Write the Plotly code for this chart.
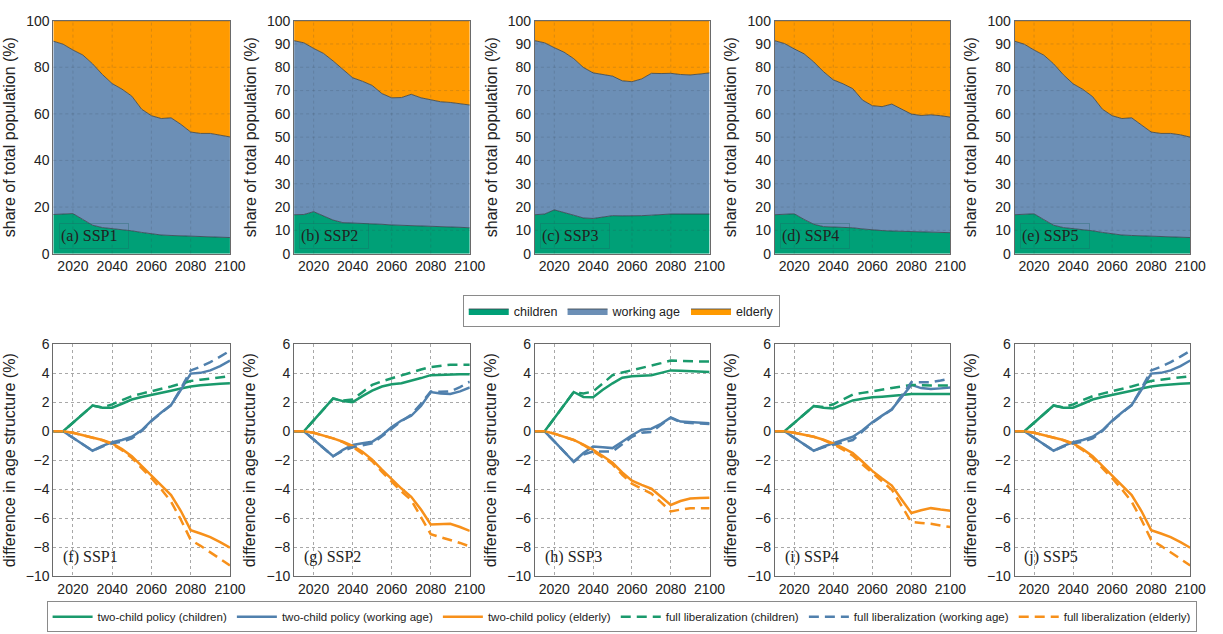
import plotly.graph_objects as go

# ---------------------------------------------------------------- data
years = list(range(2010, 2101, 5))
scenarios = ["SSP1", "SSP2", "SSP3", "SSP4", "SSP5"]
top_labels = ["(a)", "(b)", "(c)", "(d)", "(e)"]
bottom_labels = ["(f)", "(g)", "(h)", "(i)", "(j)"]

# share of total population (%) by age group
children_share = {
    "SSP1": [16.8, 17.0, 17.2, 14.7, 12.2, 11.2, 10.8, 10.3, 9.8, 9.1, 8.4, 8.0, 7.8, 7.6, 7.4, 7.2, 7.1, 7.0, 6.9],
    "SSP2": [16.7, 16.8, 18.0, 16.1, 14.4, 13.3, 13.2, 13.1, 13.0, 12.6, 12.3, 12.2, 12.1, 12.0, 11.9, 11.7, 11.5, 11.3, 11.1],
    "SSP3": [16.7, 17.0, 18.8, 17.5, 16.5, 15.3, 15.1, 15.7, 16.3, 16.2, 16.1, 16.3, 16.5, 16.8, 17.0, 17.0, 17.0, 17.0, 17.0],
    "SSP4": [16.7, 16.9, 17.1, 14.7, 12.6, 11.6, 11.5, 11.3, 11.1, 10.6, 10.1, 9.9, 9.7, 9.6, 9.4, 9.2, 9.1, 9.0, 9.0],
    "SSP5": [16.7, 16.9, 17.1, 14.6, 12.2, 11.2, 10.8, 10.3, 9.8, 9.1, 8.4, 8.0, 7.8, 7.6, 7.4, 7.2, 7.1, 7.0, 6.9],
}
working_share = {
    "SSP1": [74.4, 72.9, 70.2, 70.6, 69.3, 65.7, 62.2, 60.3, 57.8, 52.9, 50.8, 50.0, 50.5, 47.9, 44.8, 44.4, 44.5, 44.0, 43.2],
    "SSP2": [74.7, 73.7, 70.1, 69.9, 68.3, 65.7, 62.3, 60.9, 59.2, 56.1, 54.6, 54.8, 56.3, 54.9, 54.0, 53.5, 53.4, 53.2, 52.7],
    "SSP3": [74.7, 73.5, 69.6, 69.0, 67.2, 64.6, 62.5, 61.2, 59.9, 58.0, 57.7, 58.7, 60.9, 60.5, 60.4, 59.9, 59.7, 60.1, 60.6],
    "SSP4": [74.7, 73.3, 70.8, 71.1, 69.7, 66.5, 63.1, 61.6, 59.7, 55.3, 53.4, 53.2, 54.5, 52.5, 50.5, 50.1, 50.5, 50.2, 49.6],
    "SSP5": [74.5, 73.0, 70.3, 70.6, 69.3, 65.6, 62.1, 60.2, 57.6, 52.9, 50.8, 50.0, 50.5, 47.8, 44.8, 44.4, 44.5, 44.0, 43.1],
}
elderly_share = {
    "SSP1": [8.8, 10.1, 12.6, 14.7, 18.5, 23.1, 27.0, 29.4, 32.4, 38.0, 40.8, 42.0, 41.7, 44.5, 47.8, 48.4, 48.4, 49.0, 49.9],
    "SSP2": [8.6, 9.5, 11.9, 14.0, 17.3, 21.0, 24.5, 26.0, 27.8, 31.3, 33.1, 33.0, 31.6, 33.1, 34.1, 34.8, 35.1, 35.5, 36.2],
    "SSP3": [8.6, 9.5, 11.6, 13.5, 16.3, 20.1, 22.4, 23.1, 23.8, 25.8, 26.2, 25.0, 22.6, 22.7, 22.6, 23.1, 23.3, 22.9, 22.4],
    "SSP4": [8.6, 9.8, 12.1, 14.2, 17.7, 21.9, 25.4, 27.1, 29.2, 34.1, 36.5, 36.9, 35.8, 37.9, 40.1, 40.7, 40.4, 40.8, 41.4],
    "SSP5": [8.8, 10.1, 12.6, 14.8, 18.5, 23.2, 27.1, 29.5, 32.6, 38.0, 40.8, 42.0, 41.7, 44.6, 47.8, 48.4, 48.4, 49.0, 50.0],
}

# difference in age structure (%) under the two policies
two_child_children = {
    "SSP1": [0, 0, 0.59, 1.19, 1.78, 1.63, 1.63, 1.90, 2.19, 2.37, 2.53, 2.67, 2.80, 2.95, 3.09, 3.17, 3.24, 3.28, 3.31],
    "SSP2": [0, 0, 0.75, 1.50, 2.26, 2.08, 2.01, 2.42, 2.80, 3.09, 3.24, 3.31, 3.47, 3.67, 3.87, 3.91, 3.94, 3.94, 3.94],
    "SSP3": [0, 0, 0.90, 1.80, 2.71, 2.37, 2.35, 2.86, 3.31, 3.69, 3.80, 3.83, 3.87, 4.03, 4.20, 4.17, 4.14, 4.11, 4.09],
    "SSP4": [0, 0, 0.58, 1.16, 1.74, 1.63, 1.57, 1.85, 2.13, 2.25, 2.35, 2.39, 2.42, 2.50, 2.57, 2.57, 2.57, 2.57, 2.57],
    "SSP5": [0, 0, 0.59, 1.19, 1.78, 1.63, 1.63, 1.90, 2.19, 2.37, 2.53, 2.67, 2.80, 2.95, 3.09, 3.17, 3.24, 3.28, 3.31],
}
two_child_working = {
    "SSP1": [0, 0, -0.45, -0.90, -1.34, -1.00, -0.76, -0.60, -0.38, 0.07, 0.74, 1.30, 1.81, 2.86, 3.98, 4.03, 4.20, 4.50, 4.88],
    "SSP2": [0, 0, -0.57, -1.15, -1.72, -1.28, -0.94, -0.83, -0.72, -0.27, 0.29, 0.74, 1.07, 1.74, 2.71, 2.60, 2.57, 2.75, 3.02],
    "SSP3": [0, 0, -0.70, -1.40, -2.10, -1.50, -1.05, -1.10, -1.16, -0.72, -0.27, 0.11, 0.18, 0.51, 0.96, 0.67, 0.63, 0.60, 0.56],
    "SSP4": [0, 0, -0.45, -0.90, -1.34, -1.05, -0.83, -0.60, -0.38, 0.07, 0.63, 1.08, 1.52, 2.35, 3.20, 2.98, 2.91, 2.96, 3.02],
    "SSP5": [0, 0, -0.45, -0.90, -1.34, -1.00, -0.76, -0.60, -0.38, 0.07, 0.74, 1.30, 1.81, 2.86, 3.98, 4.03, 4.20, 4.50, 4.88],
}
two_child_elderly = {
    "SSP1": [0, 0, -0.10, -0.27, -0.45, -0.60, -0.83, -1.23, -1.72, -2.39, -3.06, -3.74, -4.40, -5.50, -6.82, -7.05, -7.30, -7.65, -8.03],
    "SSP2": [0, 0, -0.10, -0.28, -0.49, -0.72, -1.00, -1.42, -1.95, -2.65, -3.33, -3.95, -4.52, -5.40, -6.42, -6.40, -6.38, -6.60, -6.87],
    "SSP3": [0, 0, -0.16, -0.36, -0.60, -0.92, -1.28, -1.70, -2.17, -2.84, -3.40, -3.70, -3.96, -4.52, -5.08, -4.81, -4.63, -4.60, -4.59],
    "SSP4": [0, 0, -0.10, -0.22, -0.38, -0.58, -0.83, -1.15, -1.50, -2.10, -2.73, -3.25, -3.74, -4.70, -5.64, -5.45, -5.30, -5.40, -5.48],
    "SSP5": [0, 0, -0.10, -0.27, -0.45, -0.60, -0.83, -1.23, -1.72, -2.39, -3.06, -3.74, -4.40, -5.50, -6.82, -7.05, -7.30, -7.65, -8.03],
}
full_lib_children = {
    "SSP1": [0, 0, 0.59, 1.19, 1.78, 1.65, 1.86, 2.15, 2.42, 2.60, 2.75, 2.92, 3.09, 3.28, 3.47, 3.56, 3.65, 3.72, 3.80],
    "SSP2": [0, 0, 0.75, 1.50, 2.26, 2.12, 2.19, 2.70, 3.20, 3.45, 3.65, 3.87, 4.09, 4.26, 4.43, 4.52, 4.59, 4.59, 4.59],
    "SSP3": [0, 0, 0.90, 1.80, 2.71, 2.60, 2.75, 3.30, 3.87, 4.05, 4.20, 4.35, 4.50, 4.70, 4.88, 4.85, 4.81, 4.81, 4.81],
    "SSP4": [0, 0, 0.58, 1.16, 1.74, 1.68, 1.86, 2.20, 2.53, 2.65, 2.75, 2.87, 2.98, 3.09, 3.20, 3.17, 3.15, 3.15, 3.15],
    "SSP5": [0, 0, 0.59, 1.19, 1.78, 1.65, 1.86, 2.15, 2.42, 2.60, 2.75, 2.92, 3.09, 3.28, 3.47, 3.56, 3.65, 3.72, 3.80],
}
full_lib_working = {
    "SSP1": [0, 0, -0.45, -0.90, -1.34, -1.05, -0.83, -0.72, -0.49, 0.02, 0.70, 1.28, 1.80, 2.95, 4.20, 4.45, 4.77, 5.15, 5.55],
    "SSP2": [0, 0, -0.57, -1.15, -1.72, -1.35, -1.10, -0.97, -0.83, -0.35, 0.18, 0.70, 1.14, 1.90, 2.75, 2.72, 2.75, 3.05, 3.42],
    "SSP3": [0, 0, -0.70, -1.40, -2.10, -1.60, -1.39, -1.39, -1.39, -0.90, -0.38, -0.10, -0.04, 0.45, 0.92, 0.62, 0.56, 0.53, 0.51],
    "SSP4": [0, 0, -0.45, -0.90, -1.34, -1.10, -0.94, -0.77, -0.60, 0.00, 0.58, 1.05, 1.50, 2.45, 3.38, 3.38, 3.38, 3.50, 3.65],
    "SSP5": [0, 0, -0.45, -0.90, -1.34, -1.05, -0.83, -0.72, -0.49, 0.02, 0.70, 1.28, 1.80, 2.95, 4.20, 4.45, 4.77, 5.15, 5.55],
}
full_lib_elderly = {
    "SSP1": [0, 0, -0.10, -0.27, -0.45, -0.62, -0.88, -1.30, -1.83, -2.52, -3.24, -4.00, -4.85, -6.10, -7.49, -7.90, -8.32, -8.80, -9.26],
    "SSP2": [0, 0, -0.10, -0.28, -0.49, -0.75, -1.08, -1.55, -2.06, -2.80, -3.51, -4.15, -4.74, -5.90, -7.09, -7.30, -7.49, -7.70, -7.94],
    "SSP3": [0, 0, -0.16, -0.36, -0.60, -0.95, -1.35, -1.80, -2.28, -3.00, -3.62, -3.98, -4.30, -4.90, -5.53, -5.40, -5.30, -5.30, -5.30],
    "SSP4": [0, 0, -0.10, -0.22, -0.38, -0.60, -0.90, -1.27, -1.68, -2.30, -2.91, -3.45, -4.03, -5.15, -6.26, -6.32, -6.38, -6.50, -6.60],
    "SSP5": [0, 0, -0.10, -0.27, -0.45, -0.62, -0.88, -1.30, -1.83, -2.52, -3.24, -4.00, -4.85, -6.10, -7.49, -7.90, -8.32, -8.80, -9.26],
}

x_ticks = [2020, 2040, 2060, 2080, 2100]
share_ticks_coarse = [0, 20, 40, 60, 80, 100]
share_ticks_fine = [0, 10, 20, 30, 40, 50, 60, 70, 80, 90, 100]
diff_ticks = [-10, -8, -6, -4, -2, 0, 2, 4, 6]

# ---------------------------------------------------------------- styling
FILL = {"children": "#00a077", "working age": "#6c8fb6", "elderly": "#ff9a00"}
LINE = {"children": "#1a9a6c", "working age": "#5080ad", "elderly": "#f7901a"}
SANS = "Liberation Sans, Arial, sans-serif"
SERIF = "Liberation Serif, Times New Roman, serif"
W, H = 1223, 634

col_px = [(54, 233), (298, 476), (542, 719), (785, 963), (1028, 1206)]
top_px = (13, 252)
bot_px = (345, 583)


def xdom(c):
    return [c[0] / W, c[1] / W]


def ydom(r):
    return [1 - r[1] / H, 1 - r[0] / H]


def ax_id(letter, n):
    return letter if n == 1 else f"{letter}{n}"


fig = go.Figure()
layout = {}
annotations = []
shapes = []

for i, scn in enumerate(scenarios):
    ti, bi = i + 1, i + 6
    tx, ty = ax_id("x", ti), ax_id("y", ti)
    bx, by = ax_id("x", bi), ax_id("y", bi)

    # stacked age-group shares
    for name, src in [("children", children_share), ("working age", working_share), ("elderly", elderly_share)]:
        fig.add_trace(go.Scatter(
            x=years, y=src[scn], name=name, mode="lines",
            stackgroup=f"stack{ti}", fillcolor=FILL[name],
            line=dict(color="#34404a", width=0.8),
            xaxis=tx, yaxis=ty, legend="legend", showlegend=(i == 0),
            legendgroup=name,
        ))

    # policy differences
    series = [
        ("two-child policy (children)", two_child_children, "children", "solid"),
        ("two-child policy (working age)", two_child_working, "working age", "solid"),
        ("two-child policy (elderly)", two_child_elderly, "elderly", "solid"),
        ("full liberalization (children)", full_lib_children, "children", "10px,6px"),
        ("full liberalization (working age)", full_lib_working, "working age", "10px,6px"),
        ("full liberalization (elderly)", full_lib_elderly, "elderly", "10px,6px"),
    ]
    for name, src, grp, dash in series:
        fig.add_trace(go.Scatter(
            x=years, y=src[scn], name=name, mode="lines",
            line=dict(color=LINE[grp], width=2.5, dash=dash),
            xaxis=bx, yaxis=by, legend="legend2", showlegend=(i == 0),
            legendgroup=name,
        ))

    axis_common = dict(
        showline=True, linecolor="#6a6a6a", linewidth=1, mirror=True,
        ticks="", zeroline=False,
        tickfont=dict(family=SANS, size=14, color="#222"),
    )
    yt = share_ticks_coarse if i == 0 else share_ticks_fine
    layout["xaxis" + tx[1:]] = dict(axis_common, domain=xdom(col_px[i]), anchor=ty,
                                   range=[2010, 2100], tickvals=x_ticks, showgrid=False)
    layout["yaxis" + ty[1:]] = dict(axis_common, domain=ydom(top_px), anchor=tx,
                                   range=[0, 100], tickvals=yt, showgrid=False,
                                   title=dict(text="share of total population (%)",
                                              font=dict(family=SANS, size=16, color="#222"),
                                              standoff=6))
    layout["xaxis" + bx[1:]] = dict(axis_common, domain=xdom(col_px[i]), anchor=by,
                                   range=[2010, 2100], tickvals=x_ticks, showgrid=True,
                                   gridcolor="#a8a8a8", griddash="dot", gridwidth=1)
    layout["yaxis" + by[1:]] = dict(axis_common, domain=ydom(bot_px), anchor=bx,
                                   range=[-10, 6], tickvals=diff_ticks, showgrid=True,
                                   gridcolor="#a8a8a8", griddash="dot", gridwidth=1,
                                   title=dict(text="difference in age structure (%)",
                                              font=dict(family=SANS, size=16, color="#222"),
                                              standoff=6))

    # faint dotted grid drawn over the stacked areas
    for xv in x_ticks[:-1]:
        shapes.append(dict(type="line", xref=tx, yref=f"{ty} domain", x0=xv, x1=xv, y0=0, y1=1,
                           line=dict(color="rgba(50,60,70,0.18)", width=1, dash="dot"), layer="above"))
    for yv in yt[1:-1]:
        shapes.append(dict(type="line", xref=f"{tx} domain", yref=ty, x0=0, x1=1, y0=yv, y1=yv,
                           line=dict(color="rgba(50,60,70,0.18)", width=1, dash="dot"), layer="above"))

    # panel labels
    annotations.append(dict(
        text=f"{top_labels[i]} {scn}", xref=f"{tx} domain", yref=f"{ty} domain",
        x=0.03, y=0.02, xanchor="left", yanchor="bottom", showarrow=False,
        font=dict(family=SERIF, size=16, color="#222"), align="left",
        width=66, height=22, bordercolor="rgba(30,100,100,0.35)", borderwidth=1, borderpad=1,
    ))
    annotations.append(dict(
        text=f"{bottom_labels[i]} {scn}", xref=f"{bx} domain", yref=f"{by} domain",
        x=0.045, y=0.085, xanchor="left", yanchor="middle", showarrow=False,
        font=dict(family=SERIF, size=16, color="#222"),
    ))

fig.update_layout(
    width=W, height=H,
    margin=dict(l=0, r=0, t=0, b=0),
    paper_bgcolor="white", plot_bgcolor="white",
    annotations=annotations, shapes=shapes,
    legend=dict(
        orientation="h", x=0.5147, xanchor="center", y=0.535, yanchor="top",
        bordercolor="#8a8a8a", borderwidth=1, bgcolor="white",
        font=dict(family=SANS, size=12.5, color="#222"),
        itemwidth=40, tracegroupgap=0, traceorder="normal",
    ),
    legend2=dict(
        orientation="h", x=0.515, xanchor="center", y=0.04, yanchor="top",
        bordercolor="#8a8a8a", borderwidth=1, bgcolor="white",
        font=dict(family=SANS, size=11.5, color="#222"),
        itemwidth=40, tracegroupgap=0, traceorder="normal",
    ),
    **layout,
)

fig.write_html("out.html")
